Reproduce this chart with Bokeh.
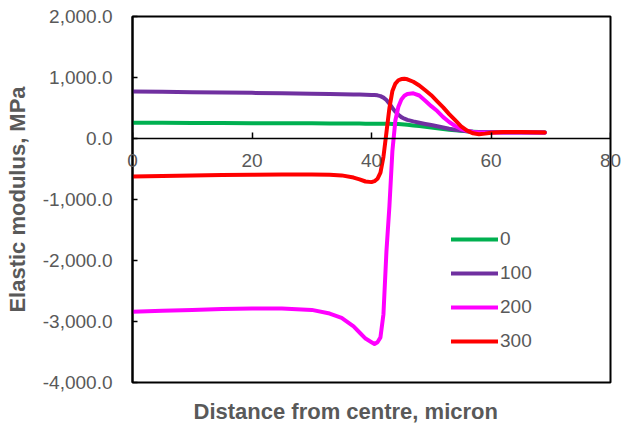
from bokeh.plotting import figure
from bokeh.models import (Range1d, FixedTicker, NumeralTickFormatter, Legend,
                          LegendItem, Title, Label)
from bokeh.embed import file_html
from bokeh.resources import INLINE

# Distance from the centre (micron), shared by all curves
distance = [0, 5, 10, 15, 20, 25, 30, 33, 35, 37, 38, 39, 40, 40.5, 41, 41.5,
            42, 42.5, 43, 43.5, 44, 44.5, 45, 45.5, 46, 47, 48, 49, 50, 51,
            52, 53, 54, 55, 56, 57, 58, 59, 60, 62, 65, 69]

# Elastic modulus (MPa) for each series
modulus_0 = [260, 258, 256, 254, 252, 250, 248, 246, 245, 244, 244, 243, 243,
             243, 242, 242, 241, 240, 240, 239, 238, 236, 233, 229, 224, 215,
             204, 192, 180, 168, 156, 145, 135, 126, 118, 112, 108, 106, 105,
             104, 103, 102]
modulus_100 = [770, 765, 760, 754, 748, 741, 733, 728, 725, 722, 720, 718, 715,
               713, 708, 695, 670, 630, 570, 500, 440, 390, 350, 325, 305, 280,
               258, 238, 220, 200, 180, 160, 143, 130, 120, 112, 107, 104, 102,
               100, 98, 96]
modulus_200 = [-2840, -2825, -2810, -2795, -2785, -2785, -2810, -2870, -2940,
               -3080, -3180, -3280, -3340, -3370, -3340, -3260, -2880, -1850,
               -1110, -200, 300, 520, 640, 700, 730, 740, 705, 620, 530, 450,
               350, 270, 205, 155, 125, 108, 100, 98, 98, 100, 100, 100]
modulus_300 = [-623, -615, -608, -600, -595, -590, -590, -595, -605, -640,
               -670, -705, -715, -700, -660, -560, -300, 100, 500, 780, 900,
               955, 975, 980, 970, 930, 870, 790, 710, 610, 510, 400, 300, 200,
               130, 85, 70, 80, 95, 105, 105, 100]

series_names = ["0", "100", "200", "300"]
series_values = [modulus_0, modulus_100, modulus_200, modulus_300]
series_colors = ["#00B050", "#7030A0", "#FF00FF", "#FF0000"]

x_ticks = [0, 20, 40, 60, 80]
x_tick_labels = ["0", "20", "40", "60", "80"]
y_ticks = [-4000, -3000, -2000, -1000, 0, 1000, 2000]
x_axis_crossing = 0

FONT = "Liberation Sans"
TEXT_GREY = "#595959"

p = figure(width=622, height=428, output_backend="svg", toolbar_location=None,
           x_range=Range1d(0, 80), y_range=Range1d(-4000, 2000),
           min_border_left=132, min_border_right=12, min_border_top=16,
           min_border_bottom=46)
p.background_fill_color = "white"
p.border_fill_color = "white"
p.outline_line_color = "black"
p.outline_line_width = 2
p.grid.visible = False

# Horizontal axis crosses the vertical axis at zero
xa = p.xaxis[0]
xa.fixed_location = x_axis_crossing
xa.ticker = FixedTicker(ticks=x_ticks)
xa.minor_tick_line_color = None
xa.major_tick_in = 6
xa.major_tick_out = 0
xa.axis_line_color = "black"
xa.axis_line_width = 1.5
xa.major_tick_line_width = 1.5
xa.major_label_text_color = None

# Tick labels of the crossing axis. The two outermost ones sit on the frame
# edges, so they are hosted by side panels where they are not cut off.
for i, (t, s) in enumerate(zip(x_ticks, x_tick_labels)):
    lab = Label(x=t, y=x_axis_crossing, text=s, y_offset=-15,
                text_align="center", text_baseline="top",
                text_font=FONT, text_font_size="19px", text_color=TEXT_GREY)
    if i == 0:
        p.add_layout(lab, "below")
    elif i == len(x_ticks) - 1:
        p.add_layout(lab, "above")
    else:
        p.add_layout(lab)

ya = p.yaxis[0]
ya.ticker = FixedTicker(ticks=y_ticks)
ya.formatter = NumeralTickFormatter(format="0,0.0")
ya.minor_tick_line_color = None
ya.major_tick_in = 5
ya.major_tick_out = 0
ya.major_label_standoff = 20
ya.axis_line_color = "black"
ya.axis_line_width = 2
ya.major_tick_line_width = 1.5
ya.major_label_text_font = FONT
ya.major_label_text_font_size = "19px"
ya.major_label_text_color = TEXT_GREY
ya.axis_label = "Elastic modulus, MPa"
ya.axis_label_text_font = FONT
ya.axis_label_text_font_size = "22px"
ya.axis_label_text_font_style = "bold"
ya.axis_label_text_color = TEXT_GREY
ya.axis_label_standoff = 10

p.add_layout(Title(text="Distance from centre, micron", align="left",
                   text_font=FONT, text_font_size="22px",
                   text_font_style="bold", text_color=TEXT_GREY,
                   standoff=2, offset=61), "below")

items = []
for name, vals, col in zip(series_names, series_values, series_colors):
    r = p.line(distance, vals, line_color=col, line_width=4,
               line_join="round", line_cap="round")
    items.append(LegendItem(label=name, renderers=[r]))

legend = Legend(items=items, location=(319, 30), orientation="vertical",
                border_line_color=None, background_fill_alpha=0,
                padding=0, margin=0, spacing=12, glyph_width=47,
                glyph_height=22, label_height=22, label_standoff=2,
                label_text_font=FONT, label_text_font_size="19px",
                label_text_color=TEXT_GREY)
p.add_layout(legend, "center")

open("out.html", "w").write(file_html(p, INLINE))
